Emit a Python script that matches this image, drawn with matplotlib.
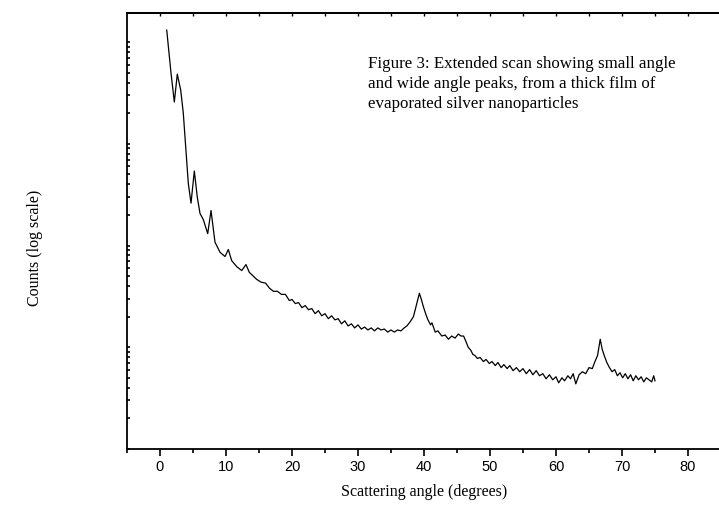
import matplotlib
matplotlib.use("Agg")
import matplotlib.pyplot as plt
from matplotlib.ticker import LogLocator, NullFormatter, MultipleLocator

angle = [1.02, 1.67, 2.17, 2.62, 3.14, 3.53, 3.94, 4.29, 4.70, 5.20, 5.65, 6.06, 6.56,
         7.23, 7.73, 8.33, 9.09, 9.85, 10.35, 10.86, 11.62, 12.38, 13.03, 13.53, 14.65,
         15.3, 16.0, 16.6, 17.2, 17.8, 18.4, 19.0, 19.6, 20.0, 20.5, 21.0, 21.5, 22.0,
         22.5, 23.0, 23.5, 24.0, 24.5, 25.0, 25.5, 26.0, 26.5, 27.0, 27.5, 28.0, 28.5,
         29.0, 29.5, 30.0, 30.5, 31.0, 31.5, 32.0, 32.5, 33.0, 33.5, 34.0, 34.5, 35.0,
         35.5, 36.0, 36.5, 37.0, 37.4, 37.9, 38.4, 38.9, 39.3, 39.6, 39.9, 40.3, 40.6,
         41.0, 41.2, 41.7, 42.1, 42.7, 43.2, 43.7, 44.2, 44.7, 45.2, 45.6, 46.0, 46.4,
         46.7, 47.1, 47.4, 47.7, 48.1, 48.5, 49.0, 49.4, 49.9, 50.3, 50.8, 51.2, 51.7,
         52.1, 52.6, 53.0, 53.5, 54.0, 54.5, 55.0, 55.5, 56.0, 56.5, 57.0, 57.5, 58.0,
         58.5, 59.0, 59.5, 60.0, 60.4, 60.9, 61.3, 61.8, 62.2, 62.6, 63.0, 63.5, 64.0,
         64.5, 65.0, 65.5, 65.9, 66.3, 66.7, 67.0, 67.3, 67.7, 68.1, 68.5, 68.9, 69.3,
         69.7, 70.1, 70.5, 70.9, 71.3, 71.7, 72.1, 72.5, 72.9, 73.3, 73.7, 74.1, 74.5,
         74.8, 75.0]
counts = [131000, 49500, 25800, 48400, 33700, 20000, 8630, 4080, 2610, 5400, 2990, 2070, 1800,
          1310, 2210, 1080, 859, 780, 914, 711, 621, 568, 650, 546, 465,
          437, 427, 380, 355, 355, 331, 331, 288, 295, 269, 275, 245, 257,
          234, 240, 214, 229, 204, 214, 191, 204, 186, 191, 170, 182, 162,
          170, 155, 166, 151, 158, 148, 155, 145, 155, 148, 151, 141, 148,
          141, 148, 145, 155, 162, 178, 200, 269, 339, 295, 251, 209, 186,
          166, 174, 141, 145, 129, 132, 120, 129, 123, 135, 129, 129, 112,
          100, 93.3, 85.1, 83.2, 77.6, 79.4, 72.4, 75.9, 69.2, 72.4, 66.1, 70.8, 63.1,
          67.6, 61.7, 66.1, 58.9, 63.1, 57.5, 61.7, 55.0, 60.3, 53.7, 58.9, 52.5, 55.0,
          49.0, 53.7, 47.9, 51.3, 44.7, 50.1, 46.8, 52.5, 49.0, 55.0, 43.7, 53.7, 57.5,
          55.0, 63.1, 61.7, 72.4, 83.2, 120, 95.5, 83.2, 70.8, 63.1, 57.5, 60.3, 52.5,
          56.2, 50.1, 55.0, 49.0, 53.7, 46.8, 52.5, 47.9, 51.3, 45.7, 50.1, 47.9, 45.7,
          52.5, 46.8]

title_text = ("Figure 3: Extended scan showing small angle\n"
              "and wide angle peaks, from a thick film of\n"
              "evaporated silver nanoparticles")
xlabel = "Scattering angle (degrees)"
ylabel = "Counts (log scale)"

W, H = 719, 509
fig = plt.figure(figsize=(W / 100, H / 100), dpi=100)
left, right, top, bottom = 127, 721, 13, 449
ax = fig.add_axes([left / W, 1 - bottom / H, (right - left) / W, (bottom - top) / H])

ax.plot(angle, counts, color="black", lw=0.9)
ax.set_yscale("log")
ax.set_xlim(-5, 85)
ax.set_ylim(10, 10 ** 5.286)

ax.spines["right"].set_visible(False)
for s in ["left", "bottom", "top"]:
    ax.spines[s].set_linewidth(1.3)

ax.xaxis.set_major_locator(MultipleLocator(10))
ax.xaxis.set_minor_locator(MultipleLocator(5))
ax.tick_params(axis="x", which="major", direction="out", length=5, width=1.2,
               labelsize=10.5, pad=3, bottom=True, top=False)
ax.tick_params(axis="x", which="minor", direction="out", length=2.8, width=1.2,
               bottom=True, top=False)
for lab in ax.get_xticklabels():
    lab.set_fontfamily("Liberation Sans")

ax.yaxis.set_major_locator(LogLocator(base=10))
ax.yaxis.set_minor_locator(LogLocator(base=10, subs=range(2, 10)))
ax.yaxis.set_major_formatter(NullFormatter())
ax.yaxis.set_minor_formatter(NullFormatter())
ax.tick_params(axis="y", which="both", direction="in", length=2, width=1.2)

sec = ax.secondary_xaxis("top")
sec.set_xticks([x for x in range(0, 90, 5)])
sec.tick_params(direction="in", length=2, width=1.0, labeltop=False)
sec.spines["top"].set_linewidth(1.3)

ax.set_xlabel(xlabel, fontfamily="Liberation Serif", fontsize=11.5, labelpad=7)
fig.text(35 / W, 1 - 248 / H, ylabel, rotation=90, va="center", ha="center",
         fontfamily="Liberation Serif", fontsize=11.5)

fig.text(368 / W, 1 - 56 / H, title_text, ha="left", va="top",
         fontfamily="Liberation Serif", fontsize=12.2, linespacing=1.33)

fig.savefig("out.png", dpi=100)
